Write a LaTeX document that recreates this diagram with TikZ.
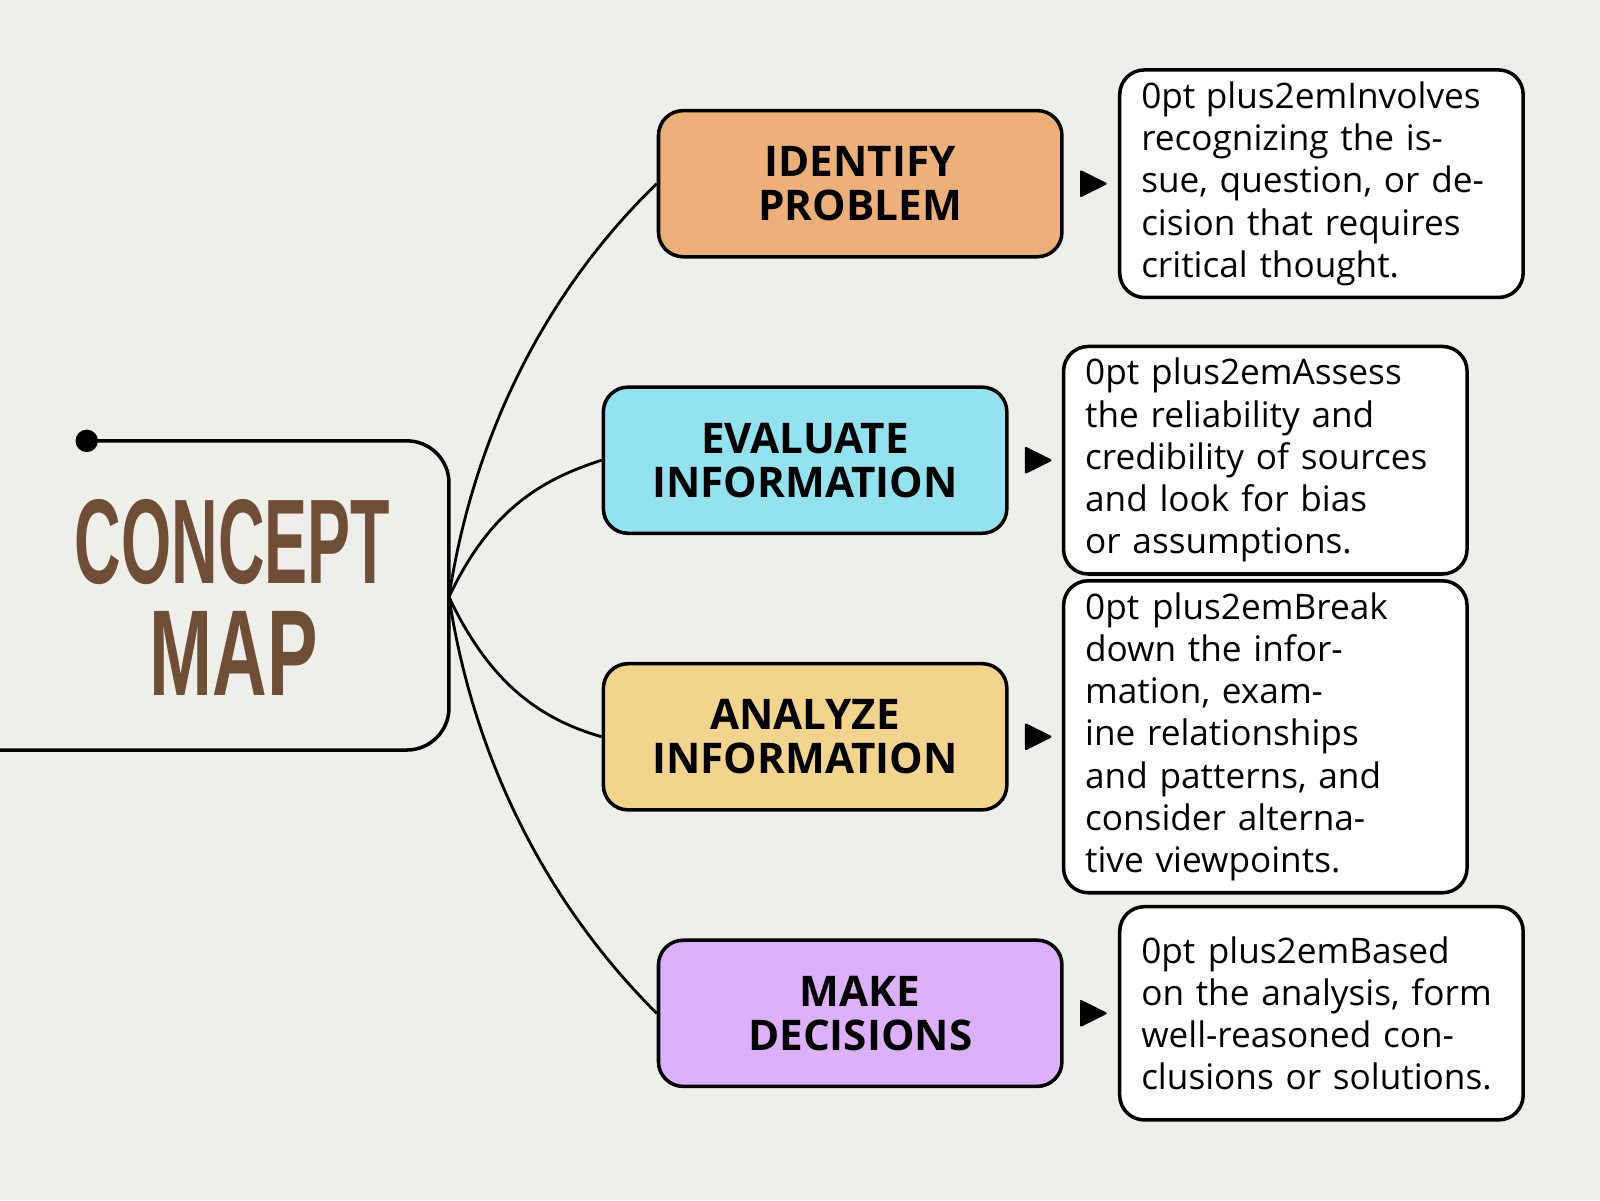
\documentclass[tikz,border=0pt]{standalone}
\usepackage{fontspec}
\setmainfont{Open Sans}
\newfontfamily\heavyfont{Liberation Sans}
\definecolor{paper}{HTML}{EEEEEB}
\definecolor{brownish}{HTML}{6F4D36}
\definecolor{orangeish}{HTML}{EDB07A}
\definecolor{cyanish}{HTML}{94E1EF}
\definecolor{yellowish}{HTML}{F3D48E}
\definecolor{violetish}{HTML}{DDB0FA}
\begin{document}
\begin{tikzpicture}[x=0.0102cm, y=-0.0102cm,
        stage/.style={rectangle, rounded corners=7pt, draw, line width=1pt, minimum width=4.03cm, minimum height=1.46cm, align=center, font=\bfseries\fontsize{12}{12.5}\selectfont},
        info/.style={rectangle, rounded corners=7pt, draw, line width=1pt, fill=white, minimum width=4.03cm, minimum height=2.13cm, text width=3.6cm, align=center, font=\hyphenpenalty=10000\fontsize{7.4}{9.4}\selectfont},
        link/.style={line width=0.8pt},
        pointer/.style={fill=black, line width=0.6pt, draw, line join=round}
    ]
        % background
        \fill[paper] (0,0) rectangle (1568,1176);
        \useasboundingbox (0,0) rectangle (1568,1176);

        % central concept box, open on the left
        \fill (85,432) circle (11);
        \draw[line width=1pt, rounded corners=12pt] (85,432) -- (440,432) -- (440,735) -- (0,735);
        \node[text=brownish, inner sep=0] (concept) at (228,531) {\heavyfont\bfseries\resizebox{3.15cm}{0.84cm}{CONCEPT}};
        \node[text=brownish, inner sep=0] (map) at (229,640) {\heavyfont\bfseries\resizebox{1.68cm}{0.84cm}{MAP}};
        \coordinate (hub) at (440,585);

        % stages
        \node[stage, fill=orangeish] (identify) at (843,180) {IDENTIFY\\PROBLEM};
        \node[stage, fill=cyanish] (evaluate) at (789,451) {EVALUATE\\INFORMATION};
        \node[stage, fill=yellowish] (analyze) at (789,722) {ANALYZE\\INFORMATION};
        \node[stage, fill=violetish] (decide) at (843,993) {MAKE\\DECISIONS};

        % descriptions
        \node[info] (identifyinfo) at (1295,180) {Involves recognizing the issue, question, or decision that requires critical thought.};
        \node[info] (evaluateinfo) at (1240,451) {Assess the reliability and credibility of sources and look for bias or assumptions.};
        \node[info] (analyzeinfo) at (1240,722) {Break down the information, examine relationships and patterns, and consider alternative viewpoints.};
        \node[info] (decideinfo) at (1295,993) {Based on the analysis, form well-reasoned conclusions or solutions.};

        % branches
        \draw[link] (hub) .. controls (465,420) and (540,280) .. (identify.west);
        \draw[link] (hub) .. controls (480,500) and (530,470) .. (evaluate.west);
        \draw[link] (hub) .. controls (480,670) and (530,705) .. (analyze.west);
        \draw[link] (hub) .. controls (465,750) and (540,890) .. (decide.west);

        % pointers
        \foreach \n in {identify, evaluate, analyze, decide}{
            \draw[pointer] (\n.east) ++(17,-12) -- ++(24,12) -- ++(-24,12) -- cycle;
        }
    \end{tikzpicture}
\end{document}
